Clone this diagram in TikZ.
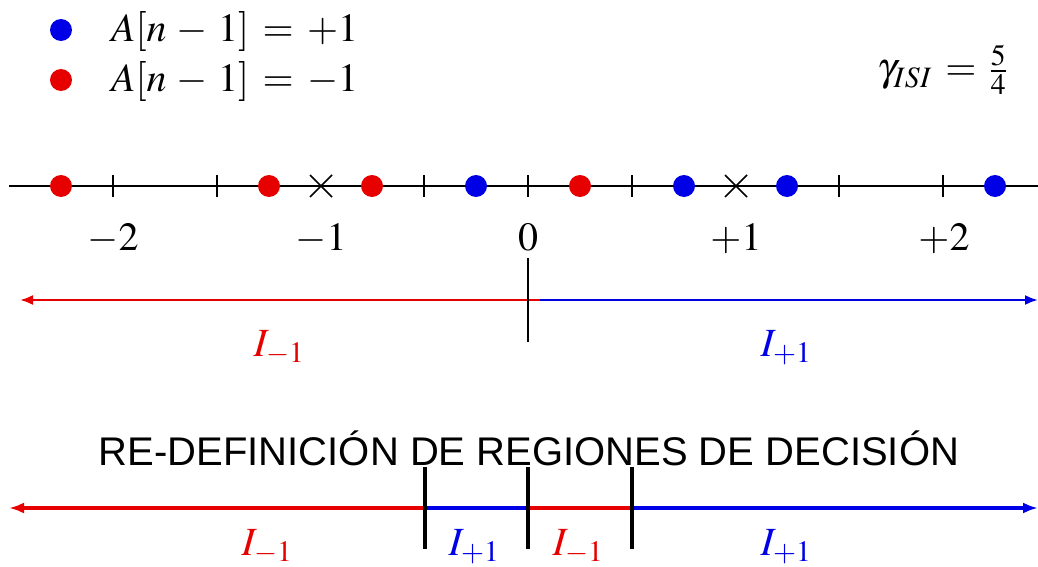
\documentclass[tikz,border=0pt]{standalone}
\usepackage{mathptmx}
\usepackage{fontspec}
\setmainfont{Liberation Serif}
\setsansfont{Liberation Sans}
\usetikzlibrary{arrows.meta}
\definecolor{myred}{RGB}{230,0,0}
\definecolor{myblue}{RGB}{0,0,230}
\medmuskip=4.6mu plus 2mu minus 4mu
\thickmuskip=6mu plus 5mu
\begin{document}
\begin{tikzpicture}[x=1pt,y=-1pt,
  every node/.style={inner sep=0pt},
  mlbl/.style={font=\fontsize{40}{44}\selectfont, anchor=base},
  reddot/.style={circle, minimum size=22pt, inner sep=0pt, fill=myred},
  bluedot/.style={circle, minimum size=22pt, inner sep=0pt, fill=myblue},
  axisline/.style={line width=1.3pt, black},
  tickmark/.style={line width=1.3pt, black},
  thinarrow/.style={line width=2.2pt},
  thickline/.style={line width=3.8pt},
  bar/.style={line width=3.2pt, black},
  tipL/.style={-{Latex[length=13pt,width=10pt]}},
]
\useasboundingbox (0,0) rectangle (1038,567);

% legend
\node[bluedot] (lb) at (61,30) {};
\node[reddot] (lr) at (61,80) {};
\node[mlbl, anchor=base west] (lbt) at (111,42) {$A[n-1]=+1$};
\node[mlbl, anchor=base west] (lrt) at (111,92) {$A[n-1]=-1$};
\node[mlbl, anchor=base west] (gam) at (877,81) {$\gamma_{ISI}=\frac{5}{4}$};

% axis
\coordinate (axL) at (9,186);
\coordinate (axR) at (1038,186);
\draw[axisline] (axL) -- (axR);
\foreach \x in {113,217,424,528,632,839,943}
  \draw[tickmark] (\x,175) -- (\x,197);
\foreach \x in {321,736}
  \draw[line width=1.5pt] (\x-11,175) -- (\x+11,197) (\x-11,197) -- (\x+11,175);

% dots
\node[reddot] (r1) at (61,186) {};
\node[reddot] (r2) at (269,186) {};
\node[reddot] (r3) at (372,186) {};
\node[bluedot] (b1) at (476,186) {};
\node[reddot] (r4) at (580,186) {};
\node[bluedot] (b2) at (684,186) {};
\node[bluedot] (b3) at (787,186) {};
\node[bluedot] (b4) at (995,186) {};

% numbers
\node[mlbl] (nm2) at (113,250) {$-2$};
\node[mlbl] (nm1) at (321,250) {$-1$};
\node[mlbl] (n0) at (528,250) {$0$};
\node[mlbl] (np1) at (736,250) {$+1$};
\node[mlbl] (np2) at (944,250) {$+2$};

% upper regions
\coordinate (uS) at (540,300);
\coordinate (uL) at (20,300);
\coordinate (uR) at (1038,300);
\draw[thinarrow, myred, tipL] (uS) -- (uL);
\draw[thinarrow, myblue, tipL] (uS) -- (uR);
\coordinate (vT) at (528,258);
\coordinate (vB) at (528,342);
\draw[line width=1.3pt] (vT) -- (vB);
\node[mlbl, myred] (ul1) at (279,356) {$I_{-1}$};
\node[mlbl, myblue] (ul2) at (786,356) {$I_{+1}$};

% title
\node[font=\sffamily\fontsize{40}{44}\selectfont, anchor=base] (title) at (529,465) {RE-DEFINICIÓN DE REGIONES DE DECISIÓN};

% lower regions
\coordinate (lL) at (9,508);
\coordinate (p1) at (425,508);
\coordinate (p2) at (528,508);
\coordinate (p3) at (632,508);
\coordinate (lR) at (1038,508);
\draw[thickline, myred, {Latex[length=15pt,width=11pt]}-] (lL) -- (p1);
\draw[thickline, myblue] (p1) -- (p2);
\draw[thickline, myred] (p2) -- (p3);
\draw[thickline, myblue, -{Latex[length=15pt,width=11pt]}] (p3) -- (lR);
\foreach \x in {425,528,632}
  \draw[bar] (\x,467) -- (\x,549);
\node[mlbl, myred] (bl1) at (267,555) {$I_{-1}$};
\node[mlbl, myblue] (bl2) at (474,555) {$I_{+1}$};
\node[mlbl, myred] (bl3) at (578,555) {$I_{-1}$};
\node[mlbl, myblue] (bl4) at (786,555) {$I_{+1}$};
\end{tikzpicture}
\end{document}
